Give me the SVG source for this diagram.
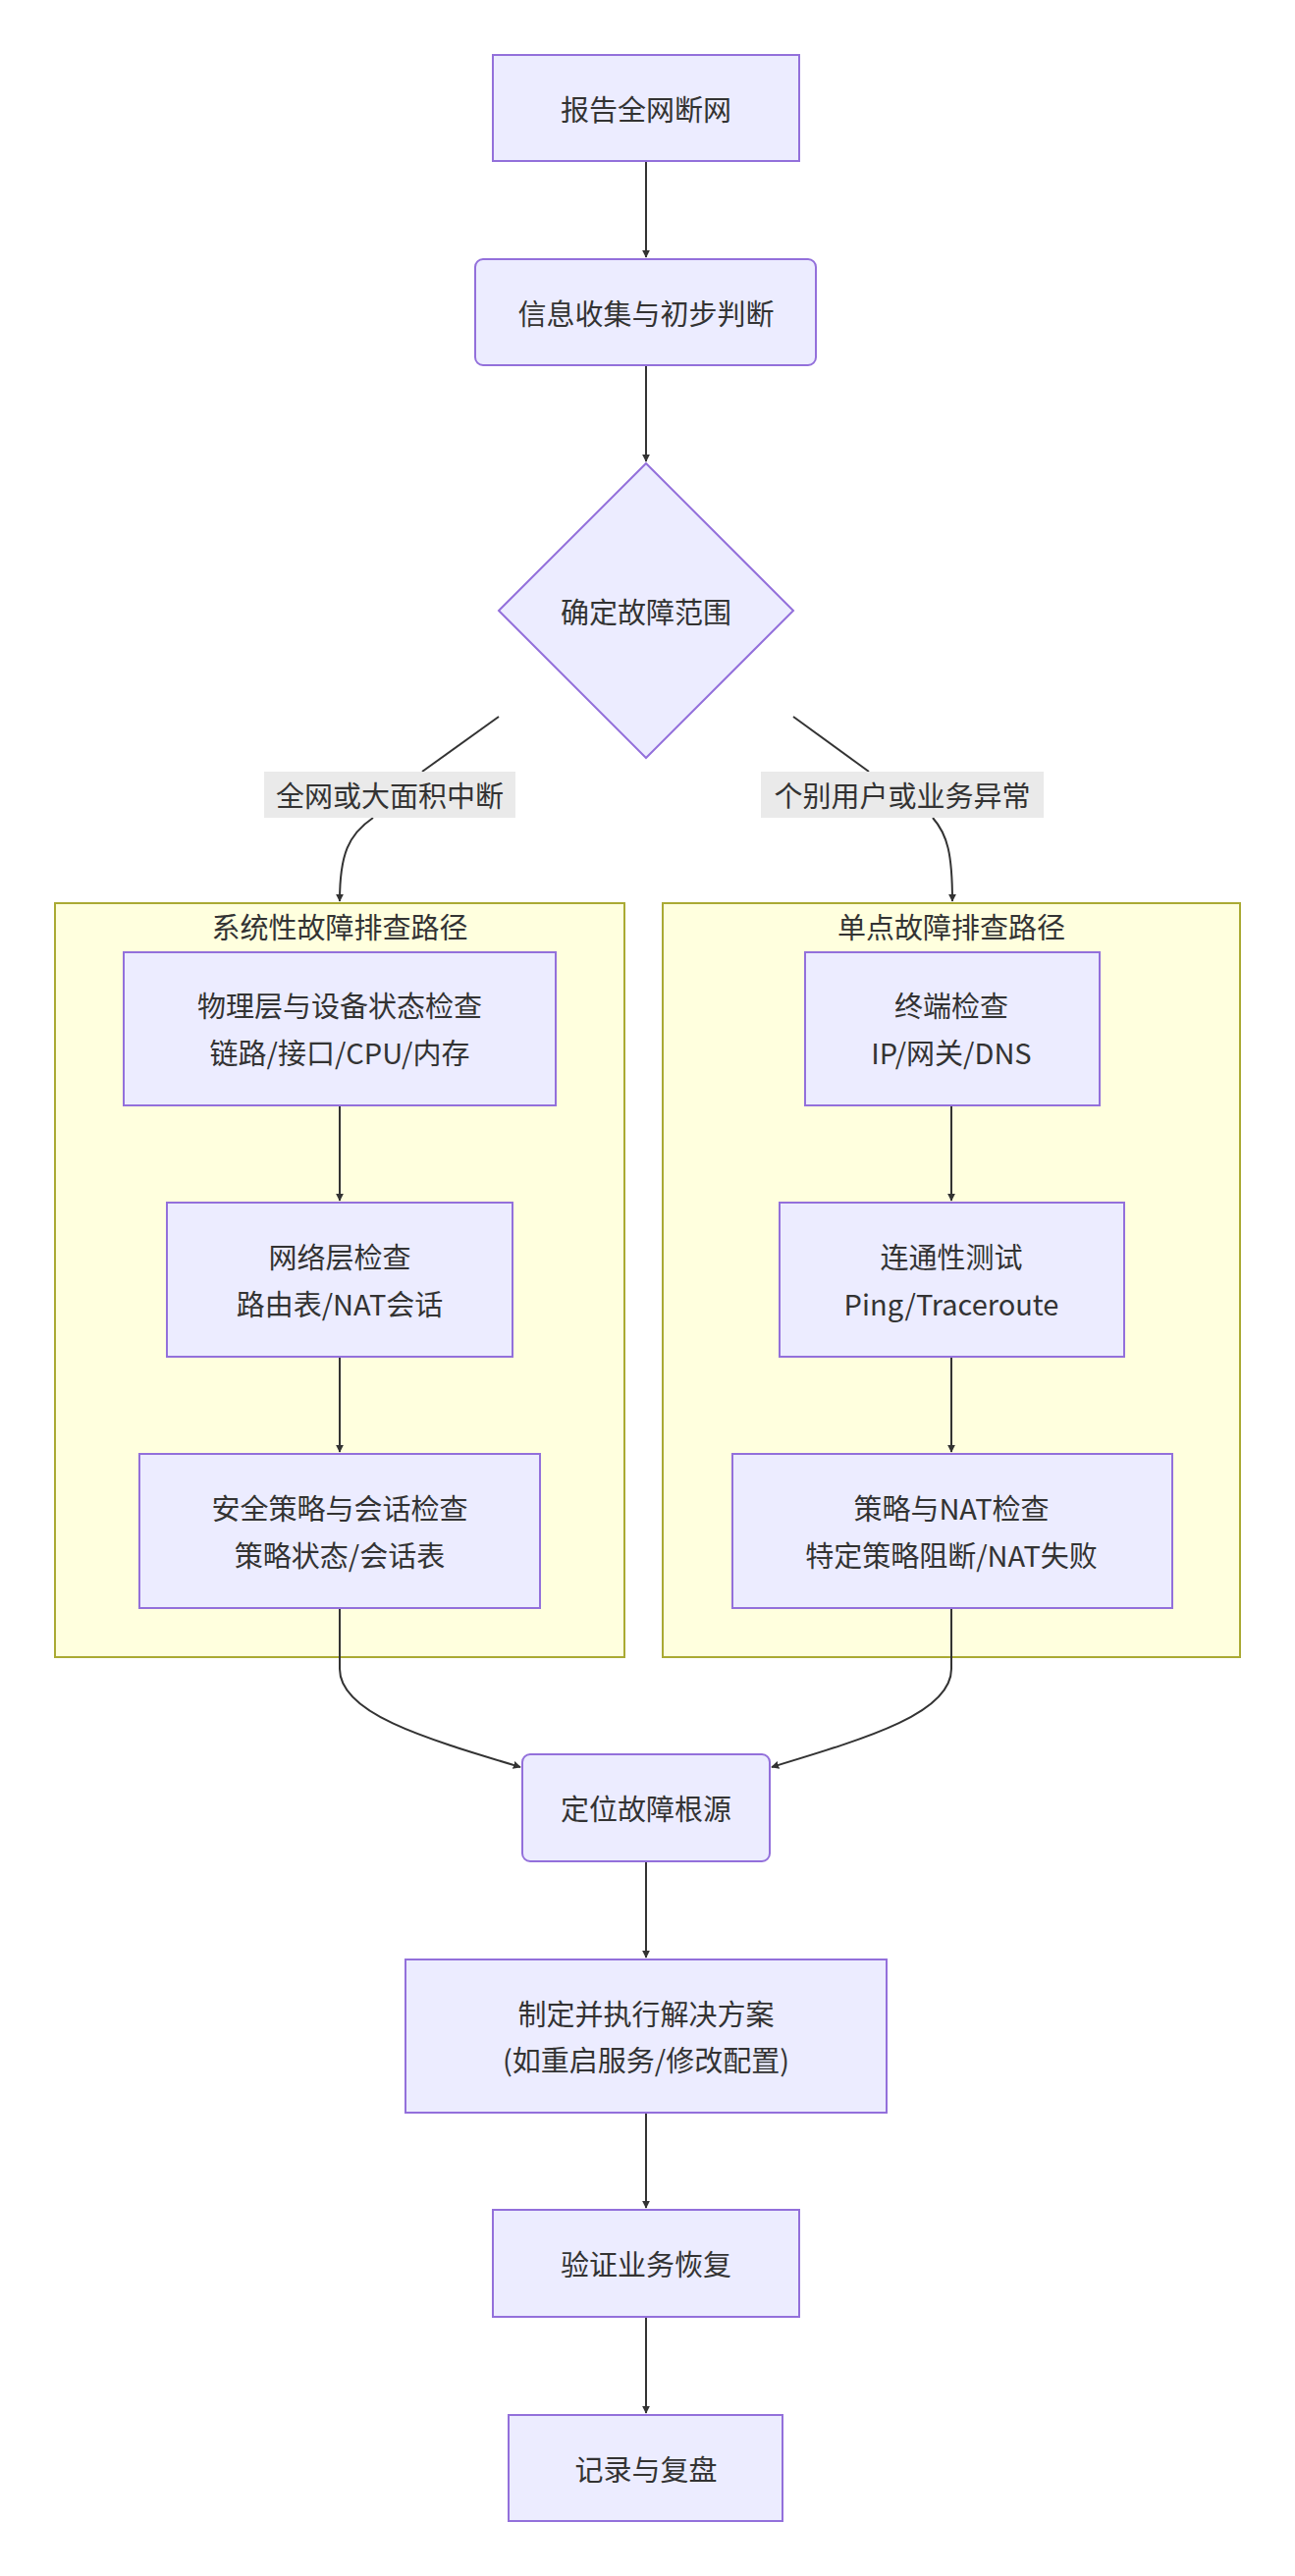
<svg xmlns="http://www.w3.org/2000/svg" width="1319" height="2624" viewBox="0 0 1319 2624">
<style>
.n{fill:#ECECFF;stroke:#9370DB;stroke-width:2}
.c{fill:#FFFFDE;stroke:#AAAA33;stroke-width:2}
.t{font-family:"Noto Sans CJK SC","Noto Sans",sans-serif;font-size:29px;fill:#333;text-anchor:middle;dominant-baseline:central}
.e{fill:none;stroke:#333;stroke-width:2}
.lb{fill:#E8E8E8;opacity:0.9}
</style>
<defs><marker id="a" viewBox="0 0 10 10" refX="9" refY="5" markerWidth="8" markerHeight="8" markerUnits="userSpaceOnUse" orient="auto"><path d="M0,0L10,5L0,10z" fill="#333"/></marker></defs>
<rect width="1319" height="2624" fill="#fff"/>
<g id="clusterA"><rect class="c" x="56" y="920" width="580" height="768"/><text class="t" x="346" y="943">系统性故障排查路径</text></g>
<g id="clusterB"><rect class="c" x="675" y="920" width="588" height="768"/><text class="t" x="969" y="943">单点故障排查路径</text></g>
<g id="edges">
<path class="e" marker-end="url(#a)" d="M658,164V262"/>
<path class="e" marker-end="url(#a)" d="M658,372V470"/>
<path class="e" d="M508,730L430,786"/>
<path class="e" marker-end="url(#a)" d="M380,833C355,850 346,870 346,918"/>
<path class="e" d="M808,730L885,786"/>
<path class="e" marker-end="url(#a)" d="M950,833C965,850 970,870 970,918"/>
<path class="e" marker-end="url(#a)" d="M346,1126V1223"/>
<path class="e" marker-end="url(#a)" d="M346,1382V1479"/>
<path class="e" marker-end="url(#a)" d="M969,1126V1223"/>
<path class="e" marker-end="url(#a)" d="M969,1382V1479"/>
<path class="e" marker-end="url(#a)" d="M346,1638V1700C346,1745 430,1770 530,1800"/>
<path class="e" marker-end="url(#a)" d="M969,1638V1700C969,1745 885,1770 786,1800"/>
<path class="e" marker-end="url(#a)" d="M658,1896V1994"/>
<path class="e" marker-end="url(#a)" d="M658,2152V2249"/>
<path class="e" marker-end="url(#a)" d="M658,2360V2458"/>
</g>
<g id="lbl1"><rect class="lb" x="269" y="786" width="256" height="47"/><text class="t" x="397" y="809">全网或大面积中断</text></g>
<g id="lbl2"><rect class="lb" x="775" y="786" width="288" height="47"/><text class="t" x="919" y="809">个别用户或业务异常</text></g>
<g id="n1"><rect class="n" x="502" y="56" width="312" height="108"/><text class="t" x="658" y="110">报告全网断网</text></g>
<g id="n2"><rect class="n" x="484" y="264" width="347" height="108" rx="8"/><text class="t" x="658" y="318">信息收集与初步判断</text></g>
<g id="n3"><polygon class="n" points="658,472 808,622 658,772 508,622"/><text class="t" x="658" y="622">确定故障范围</text></g>
<g id="L1"><rect class="n" x="126" y="970" width="440" height="156"/><text class="t" x="346" y="1023">物理层与设备状态检查</text><text class="t" x="346" y="1071">链路/接口/CPU/内存</text></g>
<g id="L2"><rect class="n" x="170" y="1225" width="352" height="157"/><text class="t" x="346" y="1279">网络层检查</text><text class="t" x="346" y="1327">路由表/NAT会话</text></g>
<g id="L3"><rect class="n" x="142" y="1481" width="408" height="157"/><text class="t" x="346" y="1535">安全策略与会话检查</text><text class="t" x="346" y="1583">策略状态/会话表</text></g>
<g id="R1"><rect class="n" x="820" y="970" width="300" height="156"/><text class="t" x="969" y="1023">终端检查</text><text class="t" x="969" y="1071">IP/网关/DNS</text></g>
<g id="R2"><rect class="n" x="794" y="1225" width="351" height="157"/><text class="t" x="969" y="1279">连通性测试</text><text class="t" x="969" y="1327">Ping/Traceroute</text></g>
<g id="R3"><rect class="n" x="746" y="1481" width="448" height="157"/><text class="t" x="969" y="1535">策略与NAT检查</text><text class="t" x="969" y="1583">特定策略阻断/NAT失败</text></g>
<g id="n4"><rect class="n" x="532" y="1787" width="252" height="109" rx="8"/><text class="t" x="658" y="1841">定位故障根源</text></g>
<g id="n5"><rect class="n" x="413" y="1996" width="490" height="156"/><text class="t" x="658" y="2050">制定并执行解决方案</text><text class="t" x="658" y="2097">(如重启服务/修改配置)</text></g>
<g id="n6"><rect class="n" x="502" y="2251" width="312" height="109"/><text class="t" x="658" y="2305">验证业务恢复</text></g>
<g id="n7"><rect class="n" x="518" y="2460" width="279" height="108"/><text class="t" x="658" y="2514">记录与复盘</text></g>
</svg>
